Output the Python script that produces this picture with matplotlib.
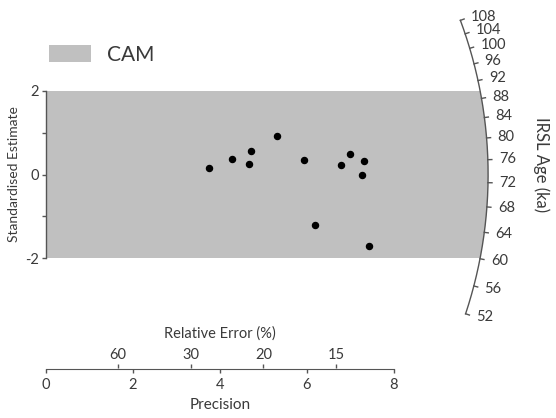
import numpy as np
import matplotlib
matplotlib.use("Agg")
import matplotlib.pyplot as plt
from matplotlib.patches import Patch

# ---- data ----
precision = [3.76, 4.27, 4.72, 4.66, 5.31, 5.93, 6.19, 6.78, 6.99, 7.30, 7.26, 7.43]
std_estimate = [0.16, 0.38, 0.56, 0.24, 0.91, 0.34, -1.20, 0.22, 0.50, 0.32, 0.00, -1.70]
central_age = 73.4
age_ticks = [52, 56, 60, 64, 68, 72, 76, 80, 84, 88, 92, 96, 100, 104, 108]
precision_ticks = [0, 2, 4, 6, 8]
rel_error_ticks = [60, 30, 20, 15]
z_ticks = [-2, -1, 0, 1, 2]
z_ticklabels = ["-2", "", "0", "", "2"]
band_label = "CAM"

plt.rcParams['font.family'] = ['Lato', 'DejaVu Sans']
TXT = '#3a3a3a'
LINE = '#555555'
BAND = '#c0c0c0'

W, H = 556, 418
fig = plt.figure(figsize=(W / 100, H / 100), dpi=100)

xmax = 10.8
left = 45.6 / W
width = xmax * 43.55 / W
ax = fig.add_axes([left, (H - 258.3) / H, width, 167.6 / H])
ax.set_xlim(0, xmax)
ax.set_ylim(-2, 2)
for s in ['top', 'right', 'bottom']:
    ax.spines[s].set_visible(False)
ax.spines['left'].set_color(LINE)
ax.spines['left'].set_linewidth(1.0)
ax.set_xticks([])
ax.set_yticks(z_ticks)
ax.set_yticklabels(z_ticklabels, fontsize=10.5, color=TXT)
ax.tick_params(axis='y', direction='out', length=3, width=1, color=LINE, pad=2)
ax.set_ylabel("Standardised Estimate", fontsize=10, color=TXT)
ax.yaxis.set_label_coords((19.6 - 45.6) / (xmax * 43.55), 0.5)

# arc geometry (circle in pixel space)
R_px = 442.5
Rx = R_px / 43.55
Rz = R_px / 41.9

def arc_t(age):
    s = np.log(age / central_age)
    return np.arctan(s * Rx / Rz)

# grey band bounded by the arc
t2 = np.arcsin(2 / Rz)
tt = np.linspace(-t2, t2, 200)
bx = np.concatenate([[0], Rx * np.cos(tt), [0]])
bz = np.concatenate([[-2], Rz * np.sin(tt), [2]])
ax.fill(bx, bz, color=BAND, lw=0, zorder=0)

# arc
ta = np.linspace(arc_t(min(age_ticks)), arc_t(max(age_ticks)), 300)
ax.plot(Rx * np.cos(ta), Rz * np.sin(ta), color=LINE, lw=1.0, clip_on=False, zorder=2)
for a in age_ticks:
    t = arc_t(a)
    f1, fl = 1 + 4 / R_px, 1 + 11 / R_px
    ax.plot([Rx * np.cos(t), Rx * np.cos(t) * f1],
            [Rz * np.sin(t), Rz * np.sin(t) * f1],
            color=LINE, lw=1.0, clip_on=False)
    ax.text(Rx * np.cos(t) * fl, Rz * np.sin(t) * fl, str(a), ha='left', va='center',
            fontsize=10.5, color=TXT, clip_on=False)

# points
ax.scatter(precision, std_estimate, s=19, color='black', zorder=3, clip_on=False)

fig.text(541.7 / W, 1 - 165 / H, "IRSL Age (ka)", rotation=270, ha='center', va='center',
         fontsize=12, color=TXT)

# legend
leg = ax.legend([Patch(facecolor=BAND, edgecolor='none')], [band_label],
                loc='upper left', bbox_to_anchor=(49 / W, 1 - 45 / H),
                bbox_transform=fig.transFigure, frameon=False, fontsize=15,
                handlelength=2.0, handleheight=0.9, handletextpad=0.8,
                borderpad=0, borderaxespad=0, labelcolor=TXT)

# precision axis
ax2 = fig.add_axes([left, (H - 368.5) / H, width, 0.0001])
ax2.set_xlim(0, xmax)
ax2.patch.set_visible(False)
for s in ['top', 'right', 'left']:
    ax2.spines[s].set_visible(False)
ax2.spines['bottom'].set_bounds(0, 8)
ax2.spines['bottom'].set_color(LINE)
ax2.set_yticks([])
ax2.set_xticks(precision_ticks)
ax2.set_xticklabels([str(p) for p in precision_ticks], fontsize=10.5, color=TXT)
ax2.tick_params(axis='x', direction='out', length=3, width=1, color=LINE, pad=4)
fig.text((45.6 + 4 * 43.55) / W, 1 - 405 / H, "Precision", ha='center', va='center',
         fontsize=11, color=TXT)

ax3 = ax2.twiny()
ax3.set_xlim(0, xmax)
for s in ['top', 'right', 'left', 'bottom']:
    ax3.spines[s].set_visible(False)
ax3.set_xticks([100 / r for r in rel_error_ticks])
ax3.set_xticklabels([str(r) for r in rel_error_ticks], fontsize=10.5, color=TXT)
ax3.tick_params(axis='x', direction='out', length=3, width=1, color=LINE, pad=2)
fig.text((45.6 + 4 * 43.55) / W, 1 - 334 / H, "Relative Error (%)", ha='center', va='center',
         fontsize=10.5, color=TXT)

fig.savefig("out.png", dpi=100)
